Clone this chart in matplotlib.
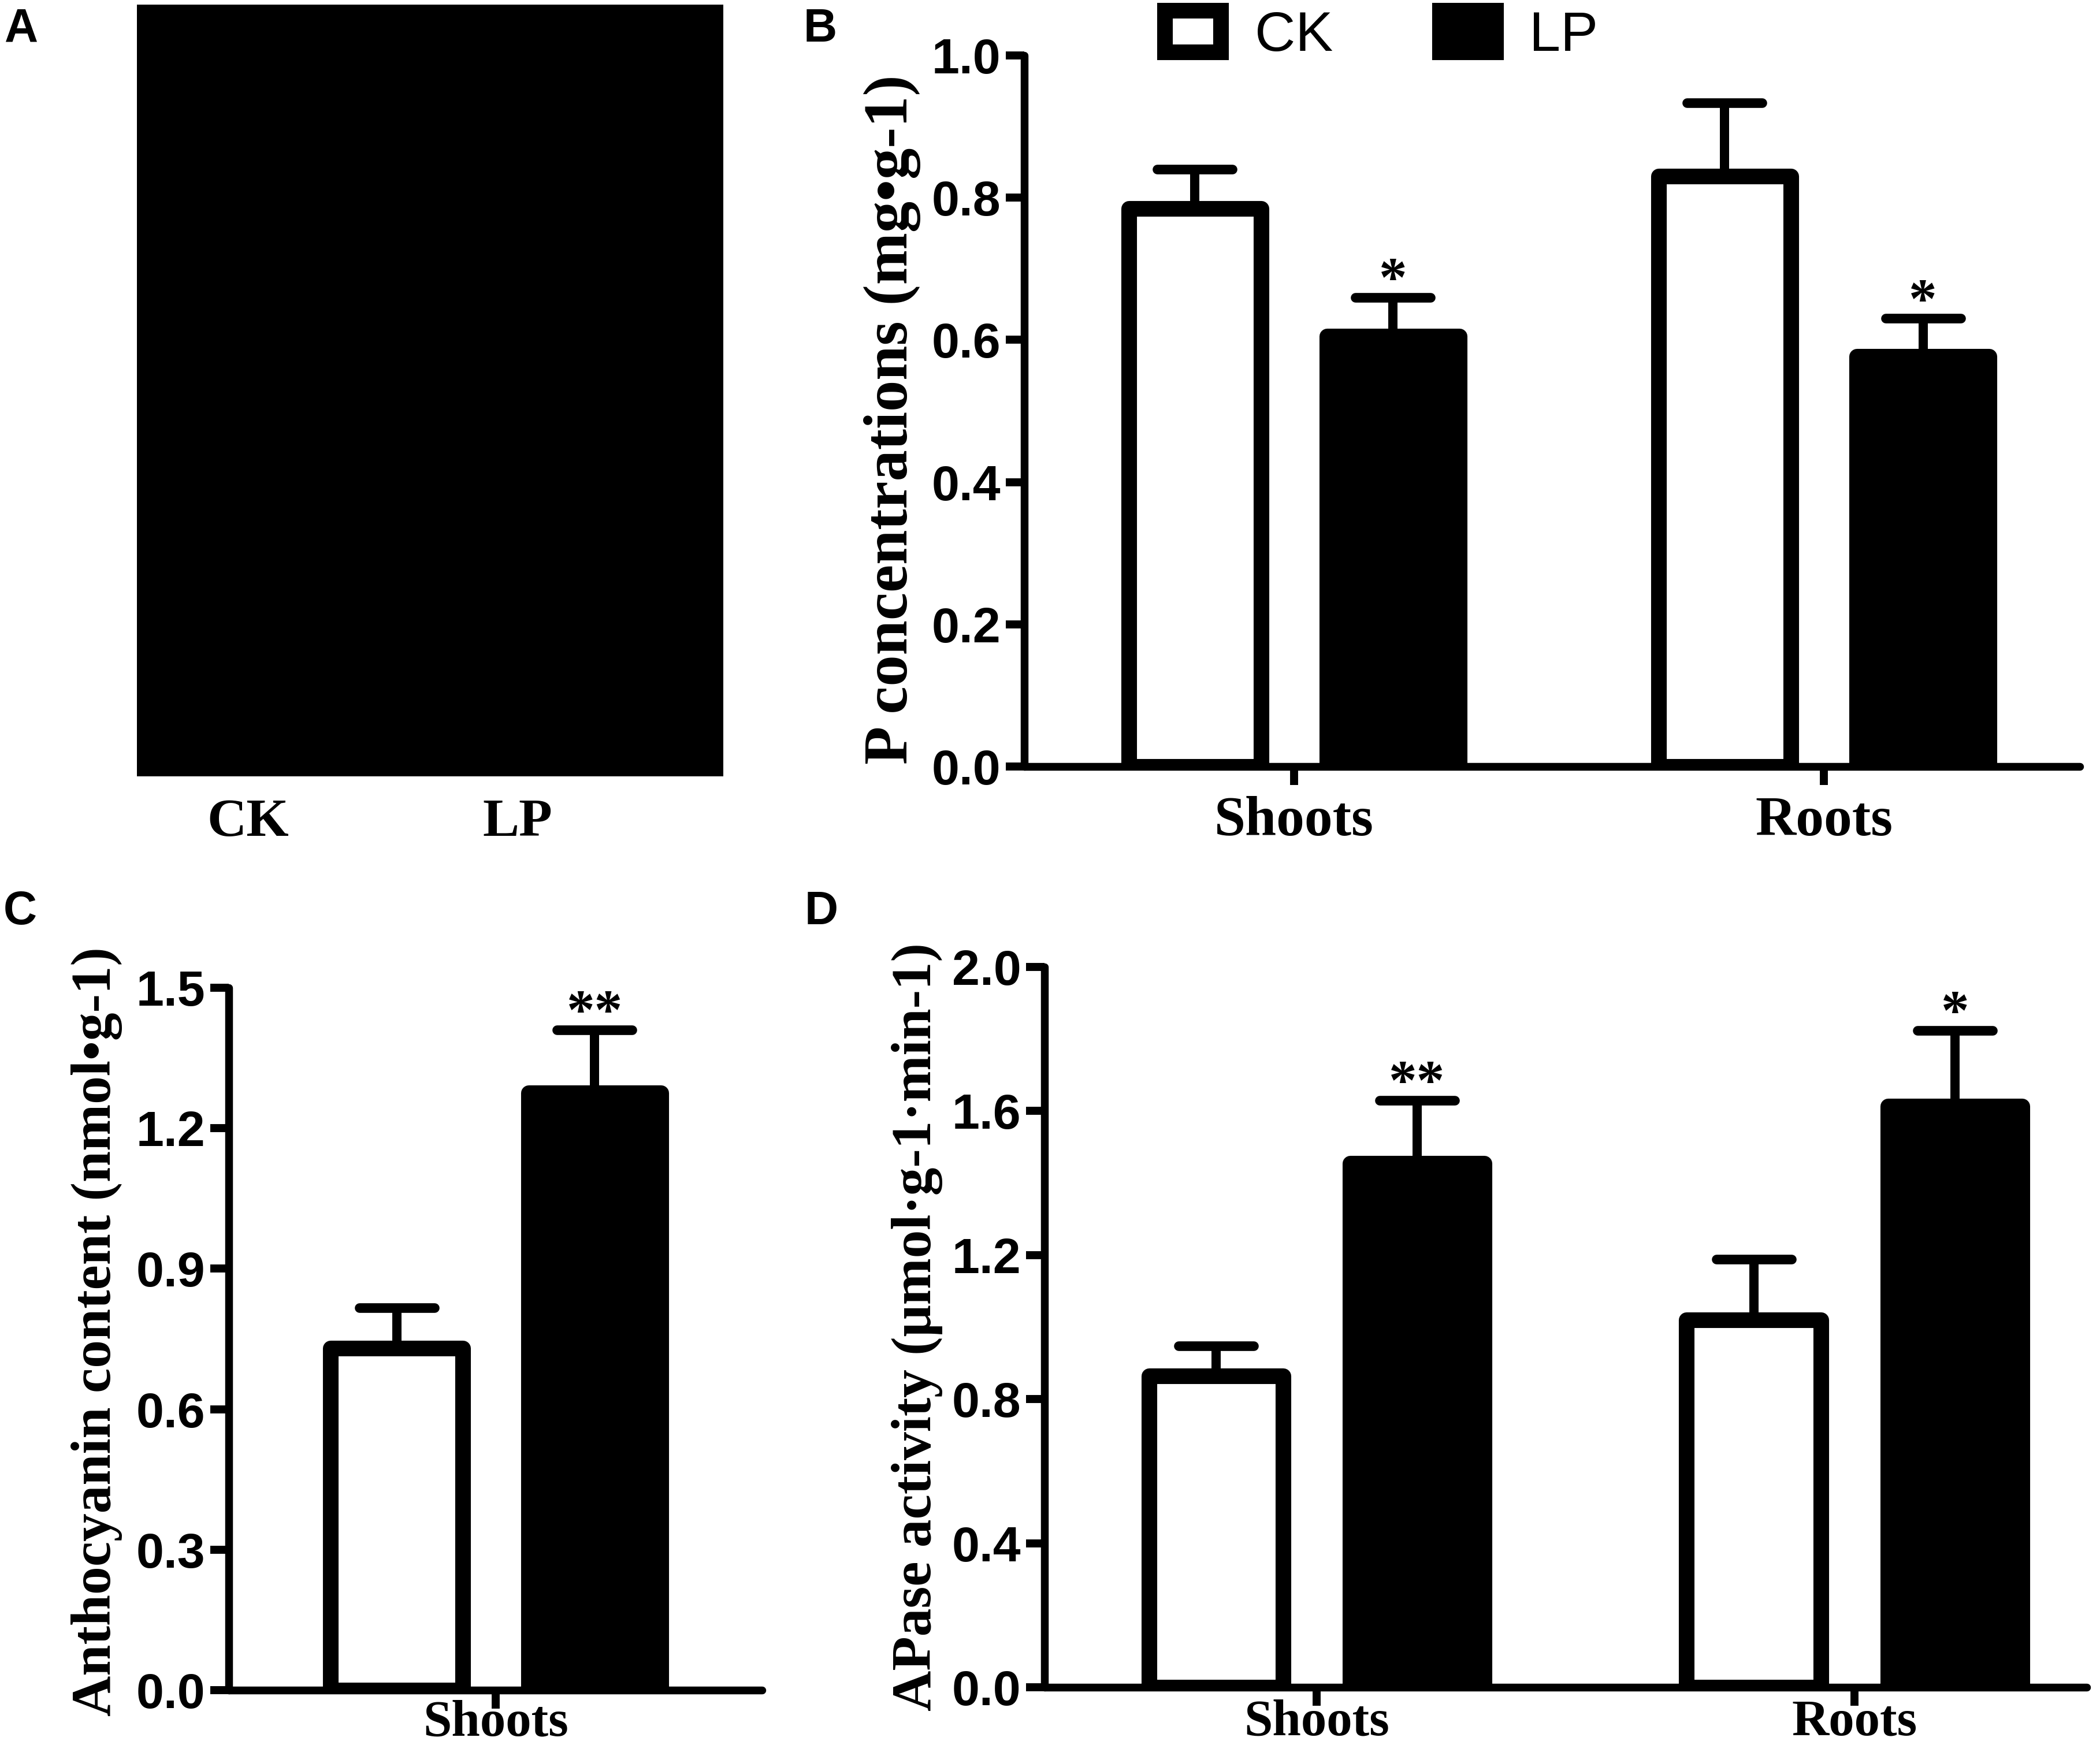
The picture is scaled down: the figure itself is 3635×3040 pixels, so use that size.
import numpy as np
import matplotlib
matplotlib.use('Agg')
import matplotlib.pyplot as plt
from matplotlib.markers import MarkerStyle

W, H = 3635, 3040  # output size in pixels
DPI = 100

SANS = 'Liberation Sans'
SERIF = 'Liberation Serif'

# ---- data ----
treatments = ['CK', 'LP']
organs = ['Shoots', 'Roots']
organs_c = ['Shoots']

# B: P concentrations (mg g-1)
p_ck = [0.785, 0.830]
p_ck_err = [0.055, 0.103]
p_lp = [0.605, 0.577]
p_lp_err = [0.055, 0.053]
p_lp_sig = ['*', '*']
p_ticks = [0.0, 0.2, 0.4, 0.6, 0.8, 1.0]

# C: anthocyanin content (nmol g-1)
anth_ck = [0.730]
anth_ck_err = [0.087]
anth_lp = [1.275]
anth_lp_err = [0.135]
anth_lp_sig = ['**']
anth_ticks = [0.0, 0.3, 0.6, 0.9, 1.2, 1.5]

# D: APase activity (umol g-1 min-1)
apase_ck = [0.865, 1.020]
apase_ck_err = [0.083, 0.168]
apase_lp = [1.455, 1.614]
apase_lp_err = [0.175, 0.210]
apase_lp_sig = ['**', '*']
apase_ticks = [0.0, 0.4, 0.8, 1.2, 1.6, 2.0]

# ---- styling ----
EDGE = 19.5      # bar outline, pt
SPINE = 9.7
OFF = 0.187      # bar offset from category centre
BAR_W = 0.25


def px_axes(left, right, top, bottom):
    return [left / W, 1 - bottom / H, (right - left) / W, (bottom - top) / H]


def bar_panel(ax, cats, ck, ck_err, lp, lp_err, sig, ticks, xlim,
              cat_size=70, cat_pad=14):
    x = np.arange(len(cats))
    b_ck = ax.bar(x - OFF, ck, BAR_W, color='white', edgecolor='black',
                  linewidth=EDGE, label='CK', zorder=3)
    b_lp = ax.bar(x + OFF, lp, BAR_W, color='black', edgecolor='black',
                  linewidth=EDGE, label='LP', zorder=3)
    for bars in (b_ck, b_lp):
        for r in bars:
            r.set_joinstyle('round')

    for xs, v, e in ((x - OFF, ck, ck_err), (x + OFF, lp, lp_err)):
        _, caps, _ = ax.errorbar(xs, v, yerr=[np.zeros(len(e)), e], fmt='none',
                                 ecolor='black', elinewidth=11.5, capsize=46.8,
                                 capthick=12, zorder=2)
        caps[0].set_visible(False)
        caps[1].set_marker(MarkerStyle('_', capstyle='round'))

    for xi, top, s in zip(x + OFF, np.add(lp, lp_err), sig):
        ax.annotate(s, (xi, top), xytext=(0, 2), textcoords='offset points',
                    ha='center', va='baseline', fontsize=70,
                    fontfamily=SERIF, fontweight='bold')

    ax.set_xlim(*xlim)
    ax.set_ylim(ticks[0], ticks[-1])
    ax.set_yticks(ticks)
    ax.set_yticklabels([f'{t:.1f}' for t in ticks], fontfamily=SANS,
                       fontweight='bold', fontsize=62)
    ax.set_xticks(x)
    ax.set_xticklabels(cats, fontfamily=SERIF, fontweight='bold', fontsize=cat_size)
    for s in ('top', 'right'):
        ax.spines[s].set_visible(False)
    for s in ('left', 'bottom'):
        ax.spines[s].set_linewidth(SPINE)
        ax.spines[s].set_capstyle('round')
    ax.tick_params(width=10, length=23, direction='out')
    ax.tick_params(axis='y', pad=6)
    ax.tick_params(axis='x', pad=cat_pad)
    return b_ck, b_lp


fig = plt.figure(figsize=(W / DPI, H / DPI), dpi=DPI)

# A: photo panel (black backdrop)
ax_a = fig.add_axes(px_axes(237, 1252, 8, 1344))
ax_a.set_facecolor('black')
ax_a.set_xticks([])
ax_a.set_yticks([])
for s in ax_a.spines.values():
    s.set_visible(False)
for name, xc in zip(treatments, (429, 896)):
    fig.text(xc / W, 1 - 1447 / H, name, ha='center', va='baseline',
             fontsize=68, fontfamily=SERIF, fontweight='bold')

# B
ax_b = fig.add_axes(px_axes(1773, 3600, 96, 1327))
b_ck, b_lp = bar_panel(ax_b, organs, p_ck, p_ck_err, p_lp, p_lp_err, p_lp_sig,
                       p_ticks, (-0.509, 1.483))
fig.text(1544 / W, 1 - 726 / H, 'P concentrations (mg•g-1)', rotation=90,
         ha='center', va='center', fontsize=78, fontfamily=SERIF, fontweight='bold')
ax_b.legend(handles=[b_ck, b_lp], labels=treatments, ncol=2, frameon=False,
            loc='upper left', bbox_to_anchor=(2016 / W, 1 - 18 / H),
            bbox_transform=fig.transFigure, prop={'family': SANS, 'size': 70},
            handlelength=1.0, handleheight=0.75, handletextpad=0.6,
            columnspacing=1.9, borderpad=0, borderaxespad=0)

# C
ax_c = fig.add_axes(px_axes(396, 1319, 1710, 2926))
bar_panel(ax_c, organs_c, anth_ck, anth_ck_err, anth_lp, anth_lp_err,
          anth_lp_sig, anth_ticks, (-0.504, 0.503), cat_size=64, cat_pad=-11)
fig.text(168 / W, 1 - 2305 / H, 'Anthocyanin content (nmol•g-1)', rotation=90,
         ha='center', va='center', fontsize=70, fontfamily=SERIF, fontweight='bold')

# D
ax_d = fig.add_axes(px_axes(1808, 3612, 1674, 2921))
bar_panel(ax_d, organs, apase_ck, apase_ck_err, apase_lp, apase_lp_err,
          apase_lp_sig, apase_ticks, (-0.506, 1.432), cat_size=64, cat_pad=-8)
fig.text(1588 / W, 1 - 2297 / H, 'APase activity (μmol·g-1·min-1)', rotation=90,
         ha='center', va='center', fontsize=70, fontfamily=SERIF, fontweight='bold')

# panel letters
for letter, (xc, yb) in zip('ABCD', [(37, 72), (1420, 72), (35, 1600), (1422, 1600)]):
    fig.text(xc / W, 1 - yb / H, letter, ha='center', va='baseline',
             fontsize=58, fontfamily=SANS, fontweight='bold')

fig.savefig('out.png', dpi=DPI)
